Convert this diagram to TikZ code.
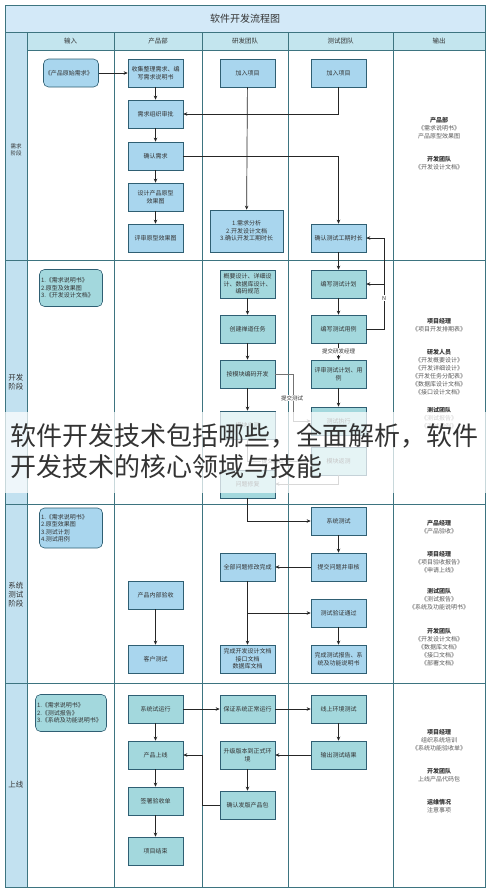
\documentclass[tikz,border=0pt]{standalone}
\usepackage{fontspec}
\setmainfont{Noto Sans CJK SC}
\XeTeXlinebreaklocale "zh"
\XeTeXlinebreakskip=0pt
\usetikzlibrary{arrows.meta,positioning}

\definecolor{laneline}{HTML}{3D7480}
\definecolor{titleblue}{HTML}{D3E9F8}
\definecolor{headteal}{HTML}{C3E5EE}
\definecolor{phaseblue}{HTML}{C2E1F0}
\definecolor{boxblue}{HTML}{A9D6EE}
\definecolor{boxteal}{HTML}{A3D8DD}
\definecolor{boxline}{HTML}{2F5F73}
\definecolor{txt}{HTML}{333333}
\definecolor{subtxt}{HTML}{5A5A5A}

\begin{document}
\begin{tikzpicture}[x=1pt, y=-1pt,
    box/.style={draw=boxline, fill=boxblue, line width=0.6pt, minimum width=55pt, minimum height=28pt,
      text width=52pt, align=center, inner sep=1pt, text=txt, font=\fontsize{6}{7.5}\selectfont},
    tbox/.style={box, fill=boxteal},
    inbox/.style={box, rounded corners=5pt, align=left},
    arr/.style={-{Stealth[length=4pt,width=3.5pt]}, draw=black!85, line width=0.7pt},
    lbl/.style={fill=white, inner sep=0.8pt, text=txt, font=\fontsize{5.5}{6.5}\selectfont},
    outtxt/.style={align=center, text=subtxt, font=\fontsize{6}{8}\selectfont},
    headtxt/.style={text=txt, font=\fontsize{6.5}{8}\selectfont},
    phasetxt/.style={align=center, text=txt, font=\fontsize{7.5}{9}\selectfont}]
  \useasboundingbox (0,0) rectangle (490,892);

  % Lanes and header
  \draw[laneline, fill=white, line width=0.8pt] (5,5) rectangle (485,887);
  \fill[titleblue] (5,5) rectangle (485,32);
  \fill[headteal] (5,32) rectangle (485,50);
  \fill[phaseblue] (5,32) rectangle (27,887);
  \draw[laneline, line width=0.8pt] (5,5) rectangle (485,887);
  \foreach \y in {32,260,504,683}
    \draw[laneline, line width=0.8pt] (5,\y) -- (485,\y);
  \draw[laneline, line width=0.8pt] (27,50) -- (485,50);
  \foreach \x in {27,114,202,288,393}
    \draw[laneline, line width=0.8pt] (\x,32) -- (\x,887);

  \node[text=txt, font=\fontsize{10}{12}\selectfont] (title) at (245,18.5) {软件开发流程图};
  \node[headtxt] (hdin) at (70.5,41) {输入};
  \node[headtxt] (hdprod) at (158,41) {产品部};
  \node[headtxt] (hddev) at (245,41) {研发团队};
  \node[headtxt] (hdtest) at (340.5,41) {测试团队};
  \node[headtxt] (hdout) at (439,41) {输出};

  \node[phasetxt, font=\fontsize{5.5}{7}\selectfont] (ph1) at (16,150) {需求\\阶段};
  \node[phasetxt] (ph2) at (16,382) {开发\\阶段};
  \node[phasetxt] (ph3) at (16,595) {系统\\测试\\阶段};
  \node[phasetxt] (ph4) at (16,785) {上线};

  % Phase 1 - requirements
  \node[inbox] (in1) at (71,73) {\centering《产品原始需求》};
  \node[box] (p1) at (155.5,73) {收集整理需求、编\\写需求说明书};
  \node[box] (p2) at (155.5,114) {需求组织审批};
  \node[box] (p3) at (155.5,156) {确认需求};
  \node[box] (p4) at (155.5,197) {设计产品原型\\效果图};
  \node[box] (p5) at (155.5,238) {评审原型效果图};
  \node[box] (d1) at (247.5,73) {加入项目};
  \node[box, minimum width=73pt, text width=70pt, minimum height=42pt] (d2) at (246.5,231)
    {1.需求分析\\2.开发设计文档\\3.确认开发工期时长};
  \node[box] (t1) at (338.5,73) {加入项目};
  \node[box] (t2) at (338.5,238) {确认测试工期时长};
  \node[outtxt] (o1) at (439,128.5) {\textcolor{txt}{\textbf{产品部}}\\《需求说明书》\\产品原型效果图};
  \node[outtxt] (o2) at (439,163.5) {\textcolor{txt}{\textbf{开发团队}}\\《开发设计文档》};

  \draw[arr] (in1) -- (p1);
  \draw[arr] (p1) -- (p2);
  \draw[arr] (p2) -- (p3);
  \draw[arr] (p3) -- (p4);
  \draw[arr] (p4) -- (p5);
  \draw[arr] (d1) -- (d2);
  \draw[arr] (t1) |- (p2);
  \draw[arr] (p3) -| (t2);

  % Phase 2 - development
  \node[inbox, fill=boxteal, minimum width=63pt, text width=60pt, minimum height=37pt] (in2) at (71,288)
    {1.《需求说明书》\\2.原型及效果图\\3.《开发设计文档》};
  \node[tbox] (d3) at (247.5,284) {概要设计、详细设\\计、数据库设计、\\编码规范};
  \node[tbox] (d4) at (247.5,329) {创建禅道任务};
  \node[tbox] (d5) at (247.5,374) {按模块编码开发};
  \node[tbox] (d6) at (247.5,425) {模块自测};
  \node[tbox] (d7) at (247.5,484) {问题修复};
  \node[tbox] (t3) at (338.5,284) {编写测试计划};
  \node[tbox] (t4) at (338.5,329) {编写测试用例};
  \node[tbox] (t5) at (338.5,374) {评审测试计划、用\\例};
  \node[tbox] (t6) at (338.5,421) {测试执行};
  \node[tbox] (t7) at (338.5,461) {模块返测};
  \node[outtxt] (o3) at (439,325.5) {\textcolor{txt}{\textbf{项目经理}}\\《项目开发排期表》};
  \node[outtxt] (o4) at (439,372) {\textcolor{txt}{\textbf{研发人员}}\\《开发概要设计》\\《开发详细设计》\\《开发任务分配表》\\《数据库设计文档》\\《接口设计文档》};
  \node[outtxt] (o5) at (439,418.5) {\textcolor{txt}{\textbf{测试团队}}\\《测试报告》\\《测试用例》};

  \draw[arr] (t2) -- (t3);
  \draw[arr] (d3) -- (d4);
  \draw[arr] (d4) -- (d5);
  \draw[arr] (d5) -- (d6);
  \draw[arr] (t3) -- (t4);
  \draw[arr] (t4) -- node[lbl] {提交研发经理} (t5);
  \draw[arr] (t5) -- (t6);
  \draw[arr] (t6) -- (t7);
  \coordinate (nturn) at (384,329);
  \draw[arr] (t4.east) -- (nturn) |- (t2.east);
  \draw[arr] (nturn |- t3.east) -- (t3.east);
  \node[lbl] (nlbl) at (384,298) {N};
  \coordinate (dturn) at (293,374);
  \draw[arr, draw=black!55] (d5.east) -- (dturn) |- (t6.west);
  \node[lbl] (sub1) at (292,398) {提交测试};
  \draw[arr, draw=black!55] (d6.south) |- node[lbl, pos=0.7] {提交测试} (t7.west);
  \draw[arr, draw=black!55] (t7.south) |- (d7.east);

  % Phase 3 - system test
  \node[inbox, minimum width=63pt, text width=60pt, minimum height=40pt] (in3) at (71,528)
    {1.《需求说明书》\\2.原型效果图\\3.测试计划\\4.测试用例};
  \node[box] (p6) at (155.5,595) {产品内部验收};
  \node[box] (p7) at (155.5,659) {客户测试};
  \node[box] (d8) at (247.5,567) {全部问题修改完成};
  \node[box] (d9) at (247.5,659) {完成开发设计文档\\接口文档\\数据库文档};
  \node[box] (t8) at (338.5,521) {系统测试};
  \node[box] (t9) at (338.5,567) {提交问题并审核};
  \node[box] (t10) at (338.5,613) {测试验证通过};
  \node[box] (t11) at (338.5,659) {完成测试报告、系\\统及功能说明书};
  \node[outtxt] (o6) at (439,527) {\textcolor{txt}{\textbf{产品经理}}\\《产品验收》};
  \node[outtxt] (o7) at (439,562) {\textcolor{txt}{\textbf{项目经理}}\\《项目验收报告》\\《申请上线》};
  \node[outtxt] (o8) at (439,599.5) {\textcolor{txt}{\textbf{测试团队}}\\《测试报告》\\《系统及功能说明书》};
  \node[outtxt] (o9) at (439,647) {\textcolor{txt}{\textbf{开发团队}}\\《开发设计文档》\\《数据库文档》\\《接口文档》\\《部署文档》};

  \draw[arr] (d7.south) |- (t8.west);
  \draw[arr] (t8) -- (t9);
  \draw[arr] (t9) -- (d8);
  \draw[arr] (d8) -- (d9);
  \draw[arr] (d8 |- t10) -- (t10);
  \draw[arr] (t10) -- (t11);
  \draw[arr] (p6) -- (p7);

  % Phase 4 - release
  \node[inbox, fill=boxteal, minimum width=71pt, text width=68pt, minimum height=37pt] (in4) at (71,713)
    {1.《需求说明书》\\2.《测试报告》\\3.《系统及功能说明书》};
  \node[tbox] (p8) at (155.5,709) {系统试运行};
  \node[tbox] (p9) at (155.5,755) {产品上线};
  \node[tbox] (p10) at (155.5,801) {签署验收单};
  \node[tbox] (p11) at (155.5,851) {项目结束};
  \node[tbox] (d10) at (247.5,709) {保证系统正常运行};
  \node[tbox] (d11) at (247.5,755) {升级版本到正式环\\境};
  \node[tbox] (d12) at (247.5,805) {确认发版产品包};
  \node[tbox] (t12) at (338.5,709) {线上环境测试};
  \node[tbox] (t13) at (338.5,755) {输出测试结果};
  \node[outtxt] (o10) at (439,740) {\textcolor{txt}{\textbf{项目经理}}\\组织系统培训\\《系统功能验收单》};
  \node[outtxt] (o11) at (439,775) {\textcolor{txt}{\textbf{开发团队}}\\上线产品代码包};
  \node[outtxt] (o12) at (439,806) {\textcolor{txt}{\textbf{运维情况}}\\注意事项};

  \draw[arr] (p8) -- (d10);
  \draw[arr] (d10) -- (t12);
  \draw[arr] (t12) -- (t13);
  \draw[arr] (t13) -- (d11);
  \draw[arr] (d11) -- (d12);
  \coordinate (backturn) at (202,805);
  \draw[arr] (d12.west) -- (backturn) |- (p9.east);
  \draw[arr] (p8) -- (p9);
  \draw[arr] (p9) -- (p10);
  \draw[arr] (p10) -- (p11);

  % Overlay title band
  \fill[white, fill opacity=0.72] (0,412) rectangle (490,493);
  \node[anchor=north west, text width=480pt, align=left, inner sep=0pt, text=txt,
    font=\fontsize{26}{31}\selectfont] (wmark) at (10,423)
    {软件开发技术包括哪些，全面解析，软件\\开发技术的核心领域与技能};
\end{tikzpicture}
\end{document}
